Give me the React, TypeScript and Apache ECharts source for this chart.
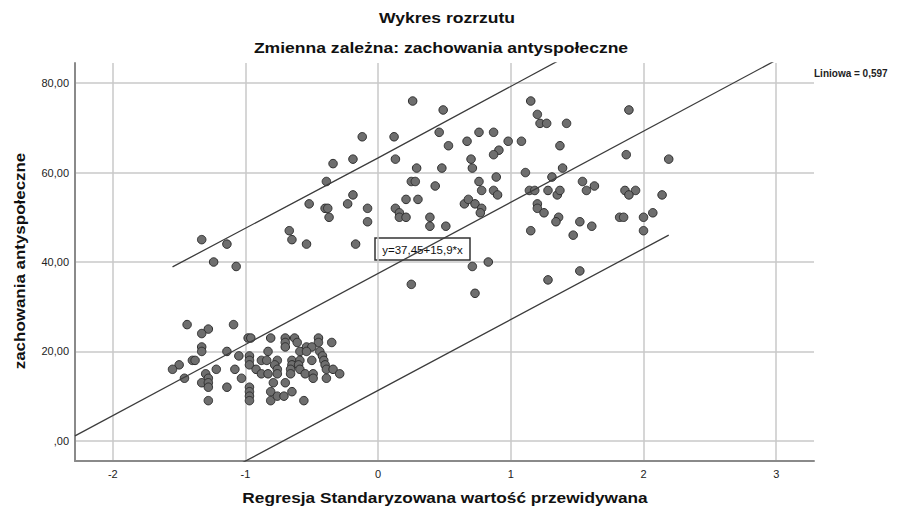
import React, { useEffect, useRef } from "react";
import * as echarts from "echarts";

const titleMain = "Wykres rozrzutu";
const titleSub = "Zmienna zależna: zachowania antyspołeczne";
const xAxisName = "Regresja Standaryzowana wartość przewidywana";
const yAxisName = "zachowania antyspołeczne";
const fitLabel = "y=37,45+15,9*x";
const rSquaredLabel = "Liniowa = 0,597";

const xRange = [-2.285, 3.285];
const yRange = [-4.5, 84.5];

// fit line y = 37,45 + 15,9*x across the axis, prediction band lines over the data range
const fitLine = [[-2.285, 1.12], [3.285, 89.68]];
const upperBand = [[-1.55, 38.9], [0, 63.3], [2.19, 98.3]];
const lowerBand = [[-1.55, -13.2], [0, 11.3], [2.19, 46.0]];

const upperCluster = [
  [0.26, 76], [0.49, 74], [-0.12, 68], [0.12, 68], [0.46, 69], [0.76, 69], [0.87, 69], [0.53, 66],
  [0.67, 67], [0.91, 65], [0.87, 64], [-0.34, 62], [-0.19, 63], [0.13, 63], [0.70, 63], [0.29, 61],
  [0.48, 61], [0.71, 61], [0.89, 59], [-0.39, 58], [0.25, 58], [0.28, 58], [0.43, 57], [0.76, 58],
  [0.78, 56], [0.87, 56], [0.90, 55], [-0.19, 55], [-0.52, 53], [-0.40, 52], [-0.38, 52], [-0.37, 50],
  [-0.23, 53], [-0.08, 52], [-0.08, 49], [0.21, 54], [0.30, 54], [0.13, 52], [0.16, 51], [0.16, 50],
  [0.21, 50], [0.39, 50], [0.39, 48], [0.51, 48], [0.65, 53], [0.68, 54], [0.73, 53], [0.78, 52],
  [0.77, 51], [-0.54, 44], [-0.17, 44], [0.71, 39], [0.83, 40], [0.25, 35], [0.73, 33],
];

const rightCluster = [
  [1.15, 76], [1.20, 73], [1.22, 71], [1.27, 71], [1.42, 71], [1.89, 74], [0.98, 67], [1.08, 67],
  [1.37, 66], [1.87, 64], [2.19, 63], [1.11, 60], [1.39, 61], [1.31, 59], [1.14, 56], [1.18, 56],
  [1.28, 56], [1.35, 55], [1.37, 56], [1.54, 58], [1.57, 56], [1.63, 57], [1.86, 56], [1.94, 56],
  [1.89, 55], [2.14, 55], [1.20, 53], [1.20, 52], [1.25, 51], [1.36, 50], [1.34, 49], [1.52, 49],
  [1.61, 48], [1.47, 46], [1.15, 47], [1.82, 50], [1.85, 50], [2.00, 50], [2.07, 51], [2.00, 47],
  [1.52, 38], [1.28, 36],
];

const middleCluster = [
  [-1.33, 45], [-1.14, 44], [-1.24, 40], [-1.07, 39], [-0.67, 47], [-0.65, 45],
];

const lowerCluster = [
  [-1.44, 26], [-1.28, 25], [-1.33, 24], [-1.09, 26], [-1.33, 21], [-1.33, 20], [-1.14, 20], [-1.40, 18],
  [-1.38, 18], [-1.05, 19], [-1.50, 17], [-1.55, 16], [-1.46, 14], [-1.30, 15], [-1.28, 14], [-1.22, 16],
  [-1.08, 16], [-1.03, 14], [-1.33, 13], [-1.28, 13], [-1.28, 12], [-1.14, 12], [-1.28, 9],
  [-0.98, 23], [-0.96, 23], [-0.97, 19], [-0.97, 18], [-0.97, 17], [-0.97, 12], [-0.97, 11], [-0.97, 10], [-0.97, 9],
  [-0.81, 23], [-0.70, 23], [-0.70, 22], [-0.70, 21], [-0.63, 23], [-0.61, 22], [-0.45, 23], [-0.45, 22],
  [-0.35, 22], [-0.54, 21], [-0.50, 21], [-0.59, 20], [-0.54, 20], [-0.83, 20], [-0.88, 18], [-0.84, 18],
  [-0.76, 18], [-0.78, 17], [-0.65, 18], [-0.65, 17], [-0.59, 18], [-0.60, 17], [-0.50, 18], [-0.44, 20],
  [-0.42, 19], [-0.41, 18], [-0.40, 17], [-0.39, 16], [-0.34, 16], [-0.29, 15], [-0.92, 16], [-0.88, 15],
  [-0.76, 16], [-0.76, 15], [-0.66, 16], [-0.66, 15], [-0.59, 16], [-0.55, 15], [-0.49, 15], [-0.49, 14],
  [-0.39, 14], [-0.83, 15], [-0.79, 13], [-0.70, 13], [-0.81, 11], [-0.65, 11], [-0.81, 9], [-0.76, 10],
  [-0.71, 10], [-0.56, 9],
];

const FONT = "'Liberation Sans', Arial, sans-serif";

export default function App() {
  const ref = useRef<HTMLDivElement>(null);
  useEffect(() => {
    if (!ref.current) return;
    const chart = echarts.init(ref.current, undefined, { renderer: "svg" });
    const points = [...upperCluster, ...rightCluster, ...middleCluster, ...lowerCluster];
    const lineStyle = { color: "#3c3c3c", width: 1.3 };
    const titleStyle = (text: string, size: number) => ({
      text,
      fontSize: size,
      fontWeight: "bold",
      fontFamily: FONT,
      fill: "#111",
      textAlign: "center",
      textVerticalAlign: "middle",
    });
    chart.setOption({
      animation: false,
      backgroundColor: "#ffffff",
      grid: { left: 75, right: 83, top: 63, bottom: 52, containLabel: false },
      xAxis: {
        type: "value",
        min: xRange[0],
        max: xRange[1],
        splitNumber: 5,
        axisLine: { show: true, onZero: false, lineStyle: { color: "#8a8a8a", width: 2 } },
        axisTick: { show: false },
        splitLine: { show: true, showMinLine: false, showMaxLine: false, lineStyle: { color: "#c8c8c8", width: 1.5 } },
        axisLabel: {
          showMinLabel: false,
          showMaxLabel: false,
          margin: 7,
          fontSize: 11,
          color: "#222",
          fontFamily: FONT,
          formatter: (v: number) => String(Math.round(v)),
        },
      },
      yAxis: {
        type: "value",
        min: yRange[0],
        max: yRange[1],
        splitNumber: 5,
        axisLine: { show: true, onZero: false, lineStyle: { color: "#8a8a8a", width: 2 } },
        axisTick: { show: false },
        splitLine: { show: true, showMinLine: false, showMaxLine: false, lineStyle: { color: "#c8c8c8", width: 1.5 } },
        axisLabel: {
          showMinLabel: false,
          showMaxLabel: false,
          margin: 6,
          fontSize: 11,
          color: "#222",
          fontFamily: FONT,
          formatter: (v: number) => (Math.abs(v) < 1e-9 ? ",00" : v.toFixed(2).replace(".", ",")),
        },
      },
      series: [
        {
          type: "scatter",
          data: points,
          symbolSize: 8.5,
          itemStyle: { color: "#6e6e6e", borderColor: "#2e2e2e", borderWidth: 1, opacity: 1 },
          z: 2,
        },
        { type: "line", data: fitLine, showSymbol: false, symbol: "none", clip: true, lineStyle, z: 3 },
        { type: "line", data: upperBand, showSymbol: false, symbol: "none", clip: true, smooth: false, lineStyle, z: 3 },
        { type: "line", data: lowerBand, showSymbol: false, symbol: "none", clip: true, smooth: false, lineStyle, z: 3 },
      ],
      graphic: [
        { type: "text", x: 447, y: 17, scaleX: 1.17, style: titleStyle(titleMain, 15) },
        { type: "text", x: 441, y: 47, scaleX: 1.17, style: titleStyle(titleSub, 15) },
        { type: "text", x: 445, y: 497, scaleX: 1.15, style: titleStyle(xAxisName, 15) },
        { type: "text", x: 20, y: 261, rotation: Math.PI / 2, scaleX: 1.13, style: titleStyle(yAxisName, 15) },
        {
          type: "text",
          x: 814,
          y: 73,
          style: { text: rSquaredLabel, fontSize: 10, fontWeight: "bold", fontFamily: FONT, fill: "#222", textAlign: "left", textVerticalAlign: "middle" },
        },
        {
          type: "group",
          x: 375,
          y: 238,
          z: 10,
          children: [
            { type: "rect", shape: { x: 0, y: 0, width: 95, height: 22 }, style: { fill: "#fff", stroke: "#333", lineWidth: 1.5 } },
            { type: "text", x: 47.5, y: 11.5, style: { text: fitLabel, fontSize: 11.5, fontFamily: FONT, fill: "#111", textAlign: "center", textVerticalAlign: "middle" } },
          ],
        },
      ],
    });
    return () => chart.dispose();
  }, []);
  return <div ref={ref} style={{ position: "fixed", left: 0, top: 0, width: 897, height: 513 }} />;
}
